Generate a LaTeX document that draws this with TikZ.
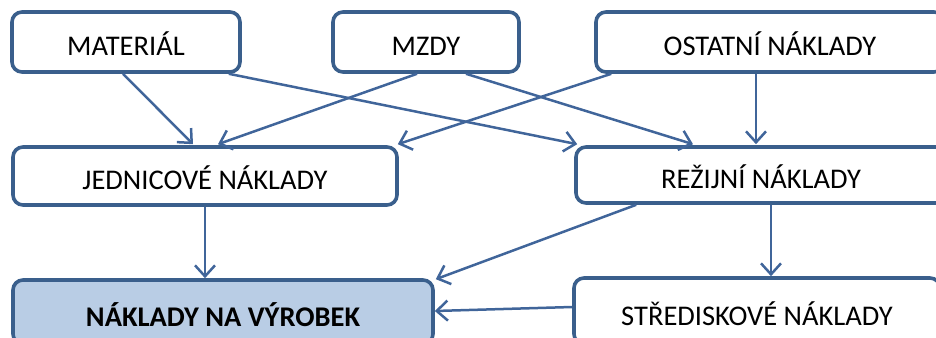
\documentclass[tikz,border=0pt]{standalone}
\usepackage{fontspec}
\setmainfont{Carlito}
\usetikzlibrary{arrows.meta,calc}
\definecolor{bord}{HTML}{3A5F8C}
\definecolor{lnk}{HTML}{40659A}
\definecolor{fillb}{HTML}{B9CDE5}
\begin{document}
\begin{tikzpicture}[x=1pt,y=1pt,
  box/.style={draw=bord, line width=3.6pt, rounded corners=10pt, fill=white,
    inner sep=0pt, text height=28pt, text depth=0pt,
    font=\fontsize{28.5}{30}\selectfont},
  conn/.style={draw=lnk, line width=2.5pt,
    -{Straight Barb[length=11pt,width=20pt,line width=2.5pt]}}]
\useasboundingbox (0,0) rectangle (936,337);
\begin{scope}
\clip (0,0) rectangle (936,337);
\node[box, minimum width=228pt, minimum height=60pt] (mat) at (126,295) {MATERIÁL};
\node[box, minimum width=186pt, minimum height=60pt] (mzdy) at (426,295) {MZDY};
\node[box, minimum width=348pt, minimum height=60pt] (ost) at (770,295) {OSTATNÍ NÁKLADY};
\node[box, minimum width=384pt, minimum height=58pt] (jed) at (205,161) {JEDNICOVÉ NÁKLADY};
\node[box, minimum width=370pt, minimum height=56pt] (rez) at (761,162) {REŽIJNÍ NÁKLADY};
\node[box, minimum width=420pt, minimum height=64pt, fill=fillb, font=\fontsize{28.5}{30}\selectfont\bfseries] (vyr) at (223,25) {NÁKLADY NA VÝROBEK};
\node[box, minimum width=366pt, minimum height=66pt] (str) at (757,26) {STŘEDISKOVÉ NÁKLADY};

\draw[conn] ([xshift=-3pt]mat.south) -- ([xshift=-12pt,yshift=1pt]jed.north);
\draw[conn] ([xshift=-9pt]mzdy.south) -- ([xshift=13pt,yshift=1pt]jed.north);
\draw[conn] ([xshift=-13pt]mat.south east) -- ([xshift=3pt,yshift=1pt]rez.north west);
\draw[conn] ([xshift=17pt]ost.south west) -- ([xshift=-1pt,yshift=1pt]jed.north east);
\draw[conn] ([xshift=40pt]mzdy.south) -- ([xshift=-68pt,yshift=1pt]rez.north);
\draw[conn] ([xshift=-14pt]ost.south) -- ([xshift=-5pt,yshift=1pt]rez.north);
\draw[conn] (jed.south) -- (jed.south |- vyr.north);
\draw[conn] ([xshift=62pt]rez.south west) -- ([xshift=1pt,yshift=-1pt]vyr.north east);
\draw[conn] ([xshift=10pt]rez.south) -- ([xshift=10pt]rez.south |- str.north);
\draw[conn] ([yshift=4pt]str.west) -- ([yshift=1pt]vyr.east);
\end{scope}
\end{tikzpicture}
\end{document}
